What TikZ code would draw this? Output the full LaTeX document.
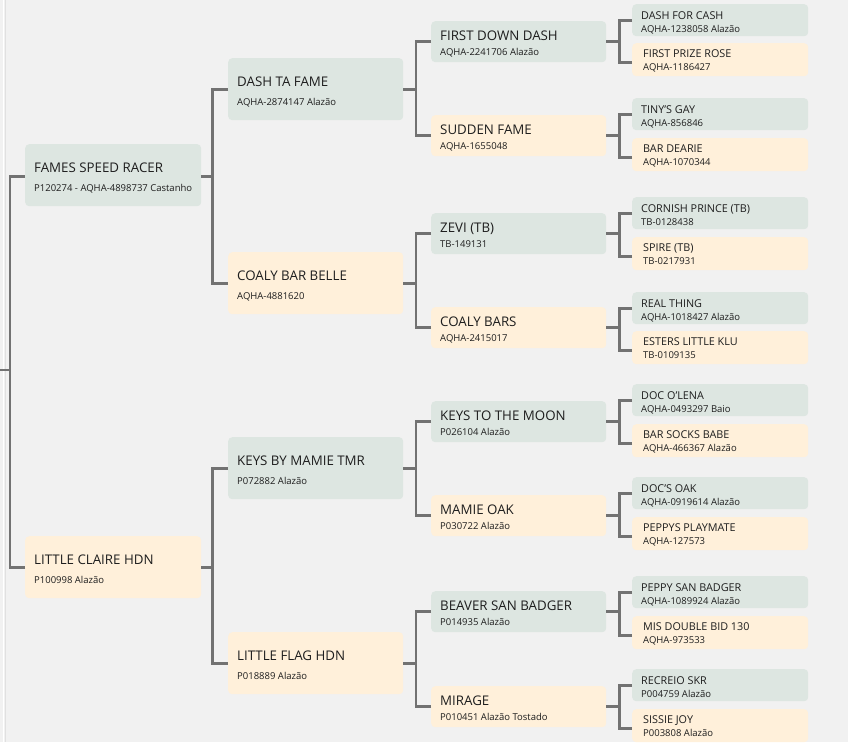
\documentclass[tikz,border=0pt]{standalone}
\usepackage{fontspec}
\setmainfont{Open Sans}
\usetikzlibrary{calc}
\definecolor{bgc}{HTML}{F1F1F1}
\definecolor{sirec}{HTML}{DDE6E1}
\definecolor{damc}{HTML}{FFF0DA}
\definecolor{lnk}{HTML}{727272}
\definecolor{txt}{HTML}{1E1E1E}
\newcommand\horseA[5]{%
  \node[#2, minimum width=176pt, minimum height=62pt] (#1) at (25,#3) {};
  \node[ttl] (#1t) at ($(#1.north west)+(9,28)$) {#4};
  \node[sub] (#1s) at ($(#1.north west)+(9,47)$) {#5};}
\newcommand\horseB[5]{%
  \node[#2, minimum width=175pt, minimum height=62pt] (#1) at (228,#3) {};
  \node[ttl] (#1t) at ($(#1.north west)+(9,28)$) {#4};
  \node[sub] (#1s) at ($(#1.north west)+(9,47)$) {#5};}
\newcommand\horseC[5]{%
  \node[#2, minimum width=175pt, minimum height=41pt] (#1) at (431,#3) {};
  \node[ttl] (#1t) at ($(#1.north west)+(9,19)$) {#4};
  \node[sub] (#1s) at ($(#1.north west)+(9,34)$) {#5};}
\newcommand\horseD[5]{%
  \node[sire, minimum width=176pt, minimum height=32pt] (#1) at (632,#2) {};
  \node[ttls] (#1t) at ($(#1.north west)+(9,15)$) {#3};
  \node[sub] (#1s) at ($(#1.north west)+(9,28)$) {#4};
  \node[dam, minimum width=176pt, minimum height=33pt] (#1b) at (632,#5) {};}
\newcommand\horseE[3]{%
  \node[ttls] (#1bt) at ($(#1b.north west)+(11,14)$) {#2};
  \node[sub] (#1bs) at ($(#1b.north west)+(11,27)$) {#3};}
\begin{document}
\begin{tikzpicture}[x=1pt,y=-1pt,
  sire/.style={fill=sirec, rounded corners=4pt, draw=none, inner sep=0pt, anchor=north west},
  dam/.style={fill=damc, rounded corners=4pt, draw=none, inner sep=0pt, anchor=north west},
  ttl/.style={anchor=base west, inner sep=0pt, text=txt, font=\fontsize{13.3}{15}\selectfont},
  ttls/.style={anchor=base west, inner sep=0pt, text=txt, font=\fontsize{10.8}{13}\selectfont},
  sub/.style={anchor=base west, inner sep=0pt, text=txt, font=\fontsize{9.5}{11}\selectfont},
  link/.style={draw=lnk, line width=2.6pt}]
\useasboundingbox (0,0) rectangle (848,742);
\fill[bgc] (0,0) rectangle (848,742);
\draw[white, line width=1pt] (3,0) -- (3,742);
\draw[black!12, line width=0.8pt] (5,0) -- (5,742);

% generation 1
\horseA{a1}{sire}{144}{FAMES SPEED RACER}{P120274 - AQHA-4898737 Castanho}
\horseA{a2}{dam}{536}{LITTLE CLAIRE HDN}{P100998 Alazão}
% generation 2
\horseB{b1}{sire}{58}{DASH TA FAME}{AQHA-2874147 Alazão}
\horseB{b2}{dam}{252}{COALY BAR BELLE}{AQHA-4881620}
\horseB{b3}{sire}{437}{KEYS BY MAMIE TMR}{P072882 Alazão}
\horseB{b4}{dam}{632}{LITTLE FLAG HDN}{P018889 Alazão}
% generation 3
\horseC{c1}{sire}{21}{FIRST DOWN DASH}{AQHA-2241706 Alazão}
\horseC{c2}{dam}{115}{SUDDEN FAME}{AQHA-1655048}
\horseC{c3}{sire}{213}{ZEVI (TB)}{TB-149131}
\horseC{c4}{dam}{307}{COALY BARS}{AQHA-2415017}
\horseC{c5}{sire}{401}{KEYS TO THE MOON}{P026104 Alazão}
\horseC{c6}{dam}{495}{MAMIE OAK}{P030722 Alazão}
\horseC{c7}{sire}{591}{BEAVER SAN BADGER}{P014935 Alazão}
\horseC{c8}{dam}{686}{MIRAGE}{P010451 Alazão Tostado}
% generation 4
\horseD{d1}{4}{DASH FOR CASH}{AQHA-1238058 Alazão}{43}
\horseE{d1}{FIRST PRIZE ROSE}{AQHA-1186427}
\horseD{d2}{98}{TINY{\char"0027}S GAY}{AQHA-856846}{138}
\horseE{d2}{BAR DEARIE}{AQHA-1070344}
\horseD{d3}{197}{CORNISH PRINCE (TB)}{TB-0128438}{237}
\horseE{d3}{SPIRE (TB)}{TB-0217931}
\horseD{d4}{292}{REAL THING}{AQHA-1018427 Alazão}{331}
\horseE{d4}{ESTERS LITTLE KLU}{TB-0109135}
\horseD{d5}{384}{DOC O{\char"0027}LENA}{AQHA-0493297 Baio}{424}
\horseE{d5}{BAR SOCKS BABE}{AQHA-466367 Alazão}
\horseD{d6}{477}{DOC{\char"0027}S OAK}{AQHA-0919614 Alazão}{517}
\horseE{d6}{PEPPYS PLAYMATE}{AQHA-127573}
\horseD{d7}{576}{PEPPY SAN BADGER}{AQHA-1089924 Alazão}{616}
\horseE{d7}{MIS DOUBLE BID 130}{AQHA-973533}
\horseD{d8}{669}{RECREIO SKR}{P004759 Alazão}{709}
\horseE{d8}{SISSIE JOY}{P003808 Alazão}

% connectors
\coordinate (r0) at (0,370);
\coordinate (rj) at (10,370);
\draw[link] (r0) -- (rj);
\draw[link] ([yshift=-1pt]a1.west) -| (rj);
\draw[link] (a2.west) -| (rj);

\draw[link] ([yshift=-1pt]a1.east) -- ++(11,0) coordinate (j1);
\draw[link] (b1.west) -| (j1);
\draw[link] (b2.west) -| (j1);
\draw[link] (a2.east) -- ++(11,0) coordinate (j2);
\draw[link] (b3.west) -| (j2);
\draw[link] (b4.west) -| (j2);

\foreach \p/\x/\y in {b1/c1/c2, b2/c3/c4, b3/c5/c6, b4/c7/c8}{
  \draw[link] (\p.east) -- ++(12.5,0) coordinate (j\p);
  \draw[link] (\x.west) -| (j\p);
  \draw[link] (\y.west) -| (j\p);
}
\foreach \p/\d in {c1/d1, c2/d2, c3/d3, c4/d4, c5/d5, c6/d6, c7/d7, c8/d8}{
  \draw[link] (\p.east) -- ++(13,0) coordinate (j\p);
  \draw[link] (\d.west) -| (j\p);
  \draw[link] ([yshift=-2.5pt]\d b.west) -| (j\p);
}
\end{tikzpicture}
\end{document}
